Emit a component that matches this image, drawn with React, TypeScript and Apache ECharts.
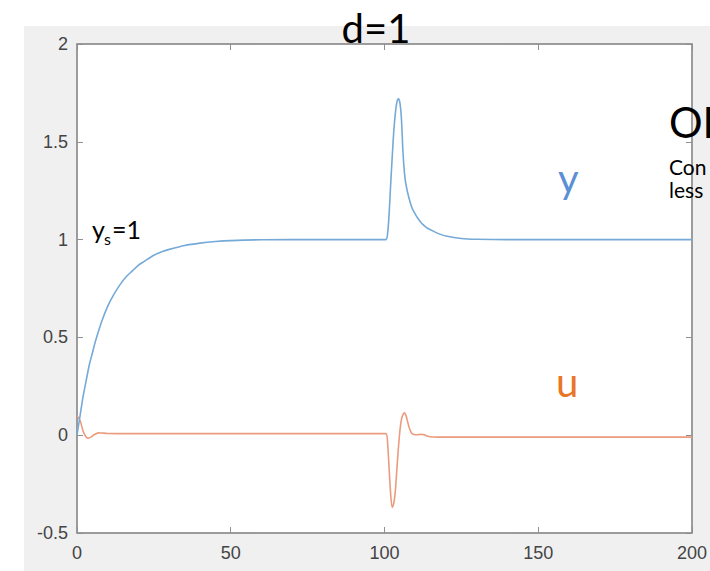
import React, { useEffect, useRef } from "react";
import * as echarts from "echarts";

// Output y (blue)
const yTime = [0, 1, 2, 3, 4, 5, 6, 8, 10, 12, 14, 16, 18, 20, 22, 25, 28, 30, 35, 40, 45, 50, 60, 80, 100.4, 101, 101.5, 102, 102.5, 103, 103.5, 104, 104.5, 105, 105.5, 106, 106.5, 107, 108, 109, 110, 111, 112, 113, 114, 116, 118, 120, 125, 130, 140, 160, 200];
const yValues = [0, 0.1, 0.2, 0.28, 0.36, 0.42, 0.48, 0.58, 0.66, 0.72, 0.77, 0.81, 0.84, 0.87, 0.89, 0.92, 0.94, 0.95, 0.97, 0.982, 0.99, 0.995, 0.999, 1.0, 1.0, 1.03, 1.13, 1.28, 1.42, 1.55, 1.64, 1.7, 1.72, 1.7, 1.62, 1.45, 1.34, 1.28, 1.21, 1.16, 1.13, 1.105, 1.085, 1.07, 1.058, 1.042, 1.028, 1.018, 1.006, 1.002, 1.0, 1.0, 1.0];

// Input u (orange)
const uTime = [0, 1, 2, 3, 3.7, 4.5, 5.5, 7, 8, 10, 15, 20, 60, 100.4, 101, 101.5, 102, 102.5, 103, 103.5, 104, 104.5, 105, 105.5, 106, 106.5, 107, 107.5, 108, 108.5, 109, 110, 111, 112, 113, 114, 116, 120, 150, 200];
const uValues = [0.1, 0.075, 0.02, -0.01, -0.015, -0.01, 0.002, 0.012, 0.011, 0.009, 0.008, 0.008, 0.008, 0.008, -0.04, -0.17, -0.3, -0.37, -0.35, -0.29, -0.18, -0.07, 0.02, 0.08, 0.105, 0.114, 0.1, 0.07, 0.04, 0.02, 0.008, 0.002, 0.003, 0.004, 0.002, -0.005, -0.009, -0.01, -0.01, -0.01];

const xTicks = { min: 0, max: 200, interval: 50 };
const yTicks = { min: -0.5, max: 2, interval: 0.5 };

const titleText = "d=1";

export default function App() {
  const ref = useRef<HTMLDivElement>(null);
  useEffect(() => {
    if (!ref.current) return;
    const chart = echarts.init(ref.current, undefined, { renderer: "svg" });
    const axisColor = "#8f8f8f";
    const labelStyle = { color: "#444", fontFamily: "Liberation Sans", fontSize: 18 };
    const textFont = "Lato";
    chart.setOption({
      animation: false,
      grid: {
        left: 77,
        top: 44,
        width: 617,
        height: 489,
        show: true,
        backgroundColor: "#ffffff",
        borderColor: axisColor,
        borderWidth: 1,
        containLabel: false,
      },
      xAxis: [
        {
          type: "value",
          position: "bottom",
          ...xTicks,
          axisLine: { show: true, onZero: false, lineStyle: { color: axisColor, width: 1.5 } },
          axisTick: { show: true, inside: true, length: 6, lineStyle: { color: axisColor } },
          axisLabel: { ...labelStyle, margin: 11 },
          splitLine: { show: false },
        },
        {
          type: "value",
          position: "top",
          ...xTicks,
          axisLine: { show: true, onZero: false, lineStyle: { color: axisColor, width: 1.5 } },
          axisTick: { show: true, inside: true, length: 6, lineStyle: { color: axisColor } },
          axisLabel: { show: false },
          splitLine: { show: false },
        },
      ],
      yAxis: [
        {
          type: "value",
          position: "left",
          ...yTicks,
          axisLine: { show: true, onZero: false, lineStyle: { color: axisColor, width: 1.5 } },
          axisTick: { show: true, inside: true, length: 6, lineStyle: { color: axisColor } },
          axisLabel: { ...labelStyle, margin: 9 },
          splitLine: { show: false },
        },
        {
          type: "value",
          position: "right",
          ...yTicks,
          axisLine: { show: true, onZero: false, lineStyle: { color: axisColor, width: 1.5 } },
          axisTick: { show: true, inside: true, length: 6, lineStyle: { color: axisColor } },
          axisLabel: { show: false },
          splitLine: { show: false },
        },
      ],
      series: [
        {
          type: "line",
          name: "y",
          xAxisIndex: 0,
          yAxisIndex: 0,
          showSymbol: false,
          smooth: 0.25,
          data: yTime.map((t, i) => [t, yValues[i]]),
          lineStyle: { color: "#75aad8", width: 1.6 },
          itemStyle: { color: "#75aad8" },
          z: 3,
        },
        {
          type: "line",
          name: "u",
          xAxisIndex: 0,
          yAxisIndex: 0,
          showSymbol: false,
          smooth: 0.25,
          data: uTime.map((t, i) => [t, uValues[i]]),
          lineStyle: { color: "#eb9c7e", width: 1.6 },
          itemStyle: { color: "#eb9c7e" },
          z: 2,
        },
      ],
      graphic: [
        { type: "rect", z: -10, shape: { x: 24, y: 26, width: 700, height: 560 }, style: { fill: "#f0f0f0" } },
        { type: "text", z: 100, x: 376, y: 28, style: { text: titleText, fontFamily: textFont, fontSize: 40, fill: "#000", textAlign: "center", textVerticalAlign: "middle" } },
        { type: "text", z: 100, x: 558, y: 178, style: { text: "y", fontFamily: textFont, fontSize: 40, fill: "#5b8fd6", textAlign: "left", textVerticalAlign: "middle" } },
        { type: "text", z: 100, x: 556, y: 382, style: { text: "u", fontFamily: textFont, fontSize: 40, fill: "#e97526", textAlign: "left", textVerticalAlign: "middle" } },
        { type: "text", z: 100, x: 669, y: 122, style: { text: "OK", fontFamily: textFont, fontSize: 42, fill: "#000", textAlign: "left", textVerticalAlign: "middle" } },
        { type: "text", z: 100, x: 669, y: 166, style: { text: "Con", fontFamily: textFont, fontSize: 21, fill: "#000", textAlign: "left", textVerticalAlign: "middle" } },
        { type: "text", z: 100, x: 669, y: 189, style: { text: "less", fontFamily: textFont, fontSize: 21, fill: "#000", textAlign: "left", textVerticalAlign: "middle" } },
        { type: "text", z: 100, x: 92, y: 229, style: { text: "y", fontFamily: textFont, fontSize: 25, fill: "#000", textAlign: "left", textVerticalAlign: "middle" } },
        { type: "text", z: 100, x: 104, y: 238, style: { text: "s", fontFamily: textFont, fontSize: 16, fill: "#000", textAlign: "left", textVerticalAlign: "middle" } },
        { type: "text", z: 100, x: 112, y: 229, style: { text: "=1", fontFamily: textFont, fontSize: 25, fill: "#000", textAlign: "left", textVerticalAlign: "middle" } },
      ],
    });
    return () => chart.dispose();
  }, []);
  return (
    <div
      ref={ref}
      style={{ position: "absolute", left: 0, top: 0, width: 710, height: 571, background: "#ffffff" }}
    />
  );
}
